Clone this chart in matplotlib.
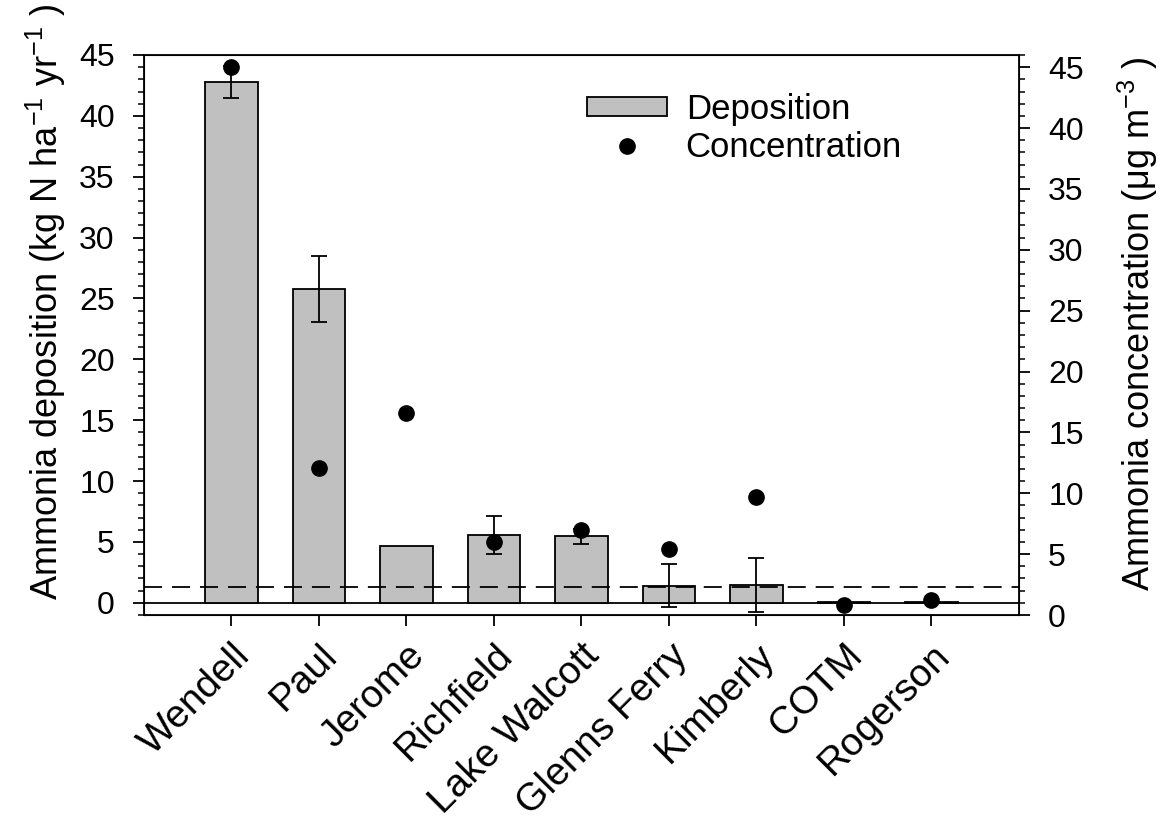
import numpy as np
import matplotlib
matplotlib.use("Agg")
import matplotlib.pyplot as plt
from matplotlib.ticker import MultipleLocator

plt.rcParams['font.family'] = ['Liberation Sans', 'DejaVu Sans']
plt.rcParams['mathtext.fontset'] = 'custom'
plt.rcParams['mathtext.rm'] = 'Liberation Sans'
plt.rcParams['mathtext.it'] = 'Liberation Sans:italic'

# data
sites = ["Wendell", "Paul", "Jerome", "Richfield", "Lake Walcott",
         "Glenns Ferry", "Kimberly", "COTM", "Rogerson"]
deposition = [42.8, 25.8, 4.65, 5.55, 5.45, 1.42, 1.45, 0.05, 0.1]
dep_err = [1.3, 2.7, 0.0, 1.55, 0.6, 1.8, 2.2, 0.0, 0.0]
concentration = [45.0, 12.1, 16.6, 6.0, 7.0, 5.4, 9.7, 0.8, 1.2]
critical_load = 1.3

x = np.arange(len(sites))

fig = plt.figure(figsize=(11.59, 8.16), dpi=100)
ax = fig.add_axes([0.1242, 0.2463, 0.755, 0.6863])

bars = ax.bar(x, deposition, width=0.6, color='#c0c0c0', edgecolor='black',
              linewidth=1.3, label='Deposition', zorder=2)
has_err = [e > 0 for e in dep_err]
ax.errorbar(x[has_err], np.array(deposition)[has_err], yerr=np.array(dep_err)[has_err],
            fmt='none', ecolor='black', elinewidth=1.3, capsize=6, capthick=1.3, zorder=3)
ax.axhline(0, color='black', lw=1.3, zorder=1)
ax.axhline(critical_load, color='black', lw=1.3, ls=(0, (10, 5.5)), zorder=4)

ax.set_xlim(-1, 9)
ax.set_ylim(-1, 45)
ax.yaxis.set_major_locator(MultipleLocator(5))
ax.yaxis.set_minor_locator(MultipleLocator(1))
ax.set_xticks(x)
ax.set_xticklabels(sites, rotation=45, ha='right', rotation_mode='anchor', fontsize=28)
ax.tick_params(axis='x', direction='out', length=8, width=1.3, pad=8)
ax.tick_params(axis='y', which='major', direction='out', length=8, width=1.3, labelsize=23, pad=13)
ax.tick_params(axis='y', which='minor', direction='out', length=4.5, width=1.1)
ax.set_ylabel("Ammonia deposition (kg N ha$^{-1}$ yr$^{-1}$ )", fontsize=26)
ax.yaxis.set_label_coords(-0.087, 0.559)
for s in ax.spines.values():
    s.set_linewidth(1.3)

ax2 = ax.twinx()
pts, = ax2.plot(x, concentration, 'o', color='black', markersize=11,
                label='Concentration', zorder=5)
ax2.set_ylim(0, 46)
ax2.yaxis.set_major_locator(MultipleLocator(5))
ax2.yaxis.set_minor_locator(MultipleLocator(1))
ax2.tick_params(axis='y', which='major', direction='out', length=8, width=1.3, labelsize=23, pad=13)
ax2.tick_params(axis='y', which='minor', direction='out', length=4.5, width=1.1)
ax2.set_ylabel("Ammonia concentration (μg m$^{-3}$ )", fontsize=26, rotation=90)
ax2.yaxis.set_label_coords(1.111, 0.52)

ax2.legend([bars, pts], ['Deposition', 'Concentration'], loc='upper left',
           bbox_to_anchor=(0.506, 0.932), frameon=False, fontsize=25,
           borderpad=0, borderaxespad=0,
           handlelength=2.3, handleheight=0.47, handletextpad=0.55, labelspacing=0.15)

fig.savefig("out.png", dpi=100)
